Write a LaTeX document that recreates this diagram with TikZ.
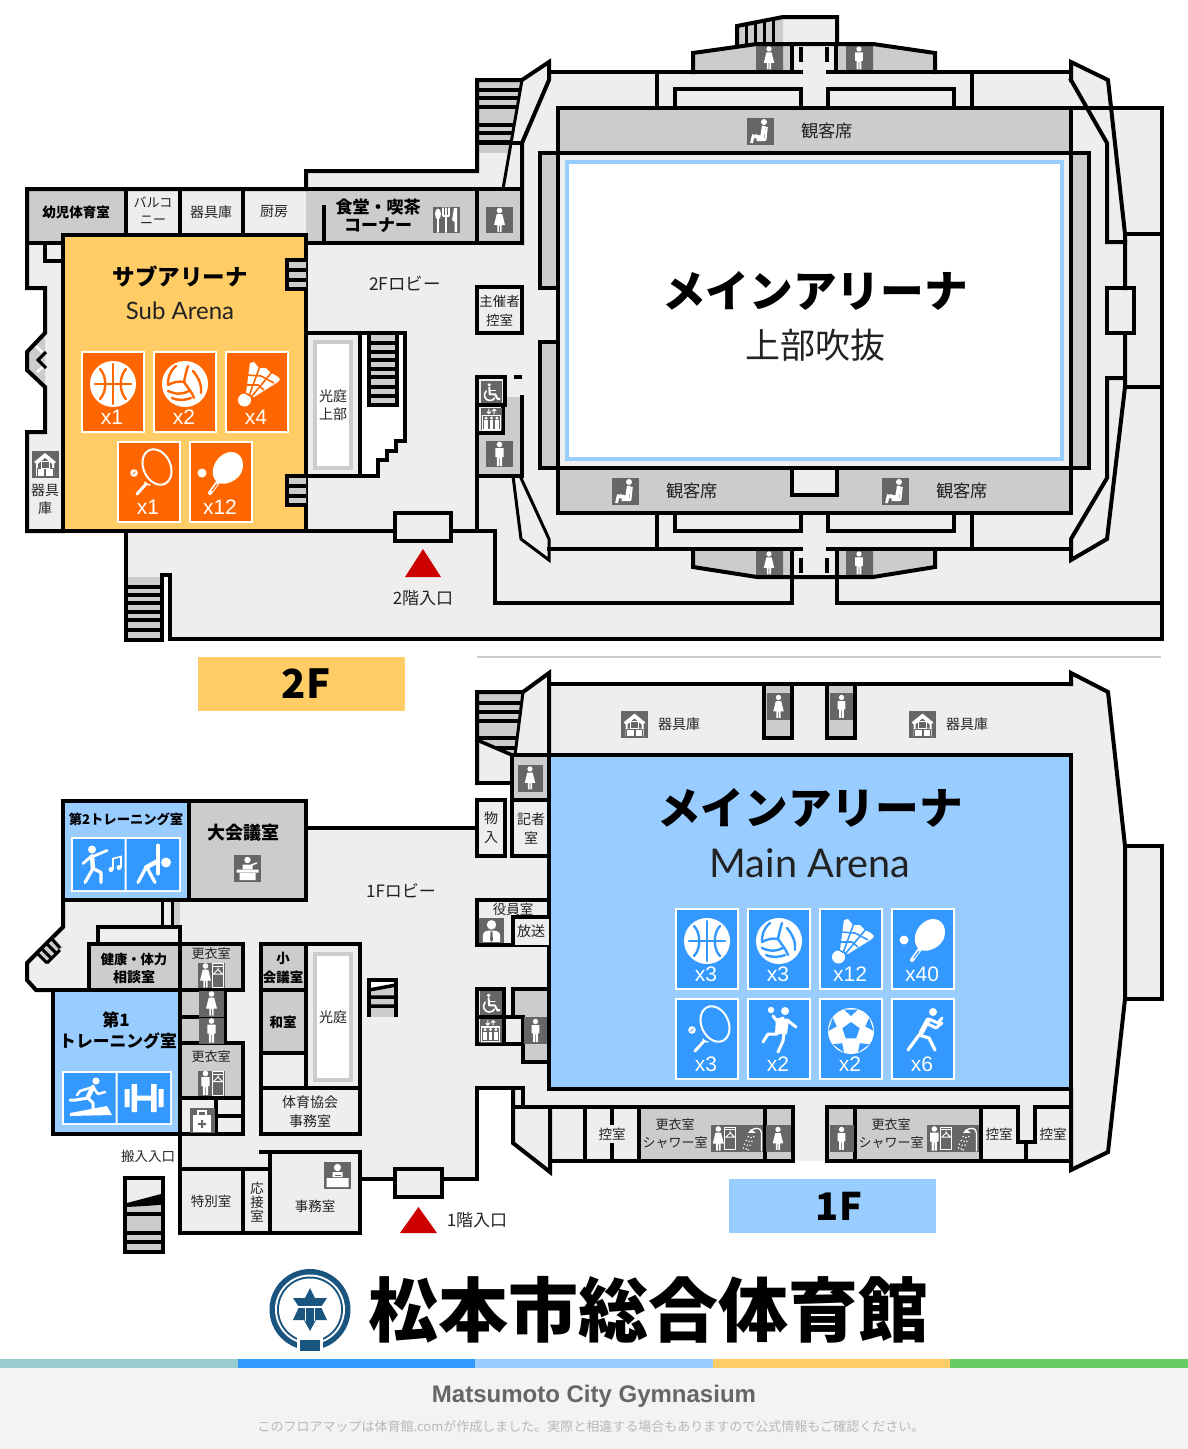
\documentclass[tikz,border=0pt]{standalone}
\usepackage{fontspec}
\setmainfont{Noto Sans CJK JP}
\newfontfamily\latf{Lato}
\newfontfamily\arf{Liberation Sans}
\definecolor{fl}{HTML}{EEEEEE}
\definecolor{gy}{HTML}{CCCCCC}
\definecolor{dk}{HTML}{666666}
\definecolor{bL}{HTML}{99CCFF}
\definecolor{bD}{HTML}{3399FF}
\definecolor{oL}{HTML}{FFCC66}
\definecolor{oD}{HTML}{FF6600}
\definecolor{rd}{HTML}{CC0000}
\definecolor{lg}{HTML}{1A5580}
\definecolor{txt}{HTML}{222222}
\definecolor{b1}{HTML}{99CCCC}
\definecolor{b5}{HTML}{66CC66}
\definecolor{ff}{HTML}{F3F3F3}
\colorlet{tc}{oD}
\tikzset{
 W/.style={draw=black,line width=4pt,line cap=rect,line join=miter,miter limit=20},
 ws/.style={draw=white,line cap=round,line join=round},
 ts/.style={draw=tc,line cap=round,line join=round,line width=2.4pt},
 picF/.pic={\fill[white] (0,-9.5) circle (2.8);
  \fill[white] (-2.8,-5.8)--(2.8,-5.8)--(5.5,5)--(2.2,5)--(2.2,12)--(0.5,12)--(0.5,5.5)--(-0.5,5.5)--(-0.5,12)--(-2.2,12)--(-2.2,5)--(-5.5,5)--cycle;},
 picM/.pic={\fill[white] (0,-9.5) circle (2.8);
  \fill[white] (-4.2,-5.8)--(4.2,-5.8)--(4.2,3)--(2.6,3)--(2.6,12)--(0.4,12)--(0.4,4)--(-0.4,4)--(-0.4,12)--(-2.6,12)--(-2.6,3)--(-4.2,3)--cycle;},
 picSeat/.pic={\fill[white] (3.5,-9) circle (3);
  \draw[ws,line width=4pt,line cap=butt,line join=miter] (3.5,-5)--(1.5,7)--(-6,5);
  \draw[ws,line width=2.8pt,line cap=butt] (-7,3.5)--(-9,12);
  \draw[dk,line width=.8pt] (6,-5)--(4.5,6);
  \draw[ws,line width=2.2pt,line cap=butt] (6.2,-4)--(4.8,9)--(-4,9);},
 picStore/.pic={\fill[white] (-11,-2)--(0,-11)--(11,-2)--(9,-0.5)--(9,12)--(-9,12)--(-9,-0.5)--cycle;
  \fill[dk] (-7,0)--(0,-6)--(7,0)--(7,4)--(-7,4)--cycle;
  \draw[dk,line width=1pt] (-8,4.5) rectangle (-0.5,12) (0.5,4.5) rectangle (8,12) (-4,-3) rectangle (4,4.5);
  \draw[white,line width=1pt] (-4,-3) rectangle (4,4);},
 picCut/.pic={\fill[white] (-8,-6) ellipse (3 and 5.5); \draw[ws,line width=2pt] (-8,-4)--(-8,12);
  \draw[ws,line width=1.2pt] (-3,-12)--(-3,-4) (0,-12)--(0,-4) (3,-12)--(3,-4) (-3,-4)--(3,-4);
  \draw[ws,line width=2pt] (0,-4)--(0,12);
  \fill[white] (8,-12)--(11,-12)--(11,12)--(8.5,12)--(8.5,2)--(6,0)--cycle;},
 picWc/.pic={\fill[white] (-2.5,-8) circle (2);
  \draw[ws,line width=2pt] (-2.5,-5)--(-2,2.5)--(4,2.5)--(7,8)--(9,7.5);
  \draw[ws,line width=1.6pt] (-2,-1.5)--(4,-1.5);
  \draw[ws,line width=1.6pt] (-6,-1) .. controls (-10,3) and (-7,9.5) .. (-2,9.5) .. controls (1,9.5) and (3,8) .. (3.5,6.5);},
 picEv/.pic={\draw[white,line width=1.3pt] (-10,-4) rectangle (10,12);
  \foreach \xx in {-6,0,6}{\fill[white] (\xx,-1) circle (1.8); \fill[white] (\xx-2.2,1.2) rectangle (\xx+2.2,11);}
  \draw[ws,line width=1pt] (-3,-11)--(-3,-6) (3,-6)--(3,-11) (-5,-8)--(-3,-6)--(-1,-8) (1,-9)--(3,-11)--(5,-9);},
 picLock/.pic={\begin{scope}[shift={(-6,0)},scale=.95]\path (0,0) pic {picF};\end{scope}
  \draw[white,line width=1pt] (1,-12) rectangle (12,12) (1,-9)--(12,-9);
  \draw[white,line width=1pt] (6.5,-8)--(6.5,-6)--(11,-1.5)--(2,-1.5)--(6.5,-6);},
 picLockM/.pic={\begin{scope}[shift={(-6,0)},scale=.95]\path (0,0) pic {picM};\end{scope}
  \draw[white,line width=1pt] (1,-12) rectangle (12,12) (1,-9)--(12,-9);
  \draw[white,line width=1pt] (6.5,-8)--(6.5,-6)--(11,-1.5)--(2,-1.5)--(6.5,-6);},
 picShow/.pic={\draw[ws,line width=1.3pt] (11,13)--(11,-6) .. controls (11,-12) and (3,-12) .. (0,-8);
  \fill[white] (-3,-6)--(0,-10)--(5,-6)--cycle;
  \foreach \a/\b in {-3/-2,0/-1,3/-2,-5/2,-2/3,1/3,-7/6,-4/7,-1/7,-8/10,-5/11,-3/12}{\fill[white] (\a,\b) circle (.9);}},
 picPod/.pic={\fill[white] (0,-8) circle (3.2);
  \fill[white] (-5,-3.5) rectangle (5,1) (-11,1.5) rectangle (11,4.5) (-8,5) rectangle (8,12);
  \draw[ws,line width=1.5pt] (4,-3)--(9,-5);},
 picDesk/.pic={\fill[white] (0,-7.5) circle (3.6);
  \fill[white] (-5,-3) rectangle (5,2) (-11,3) rectangle (11,12);
  \fill[dk] (-3,-.5) rectangle (3,1);},
 picAid/.pic={\fill[white] (-9,-5) rectangle (9,12);
  \draw[white,line width=1.4pt] (-4,-5)--(-4,-9)--(4,-9)--(4,-5);
  \fill[dk] (-1,0) rectangle (1,8) (-4,3) rectangle (4,5);},
 picStaff/.pic={\fill[white] (0,-6) circle (5);
  \fill[white] (-9,12)--(-9,5)..controls (-9,1) and (-5,0) .. (0,0) .. controls (5,0) and (9,1) .. (9,5)--(9,12)--cycle;
  \fill[dk] (-1,1)--(1,1)--(1.5,10)--(0,12)--(-1.5,10)--cycle;},
 picBask/.pic={\fill[white] (0,0) circle (23);
  \draw[ts] (-18,0)--(18,0) (0,-20)--(0,20);
  \draw[ts] (-13,-15) .. controls (-6,-8) and (-6,8) .. (-13,15);
  \draw[ts] (13,-15) .. controls (6,-8) and (6,8) .. (13,15);},
 picVol/.pic={\fill[white] (0,0) circle (23);
  \draw[ts] (-9,-18) .. controls (-16,-12) and (-17,-6) .. (-17,1);
  \draw[ts] (-17,1) .. controls (-12,-2) and (-6,-3) .. (-1,-2);
  \draw[ts] (3,-18) .. controls (1,-12) and (0,-7) .. (-1,-2);
  \draw[ts] (8,-13) .. controls (14,-6) and (17,2) .. (16,9);
  \draw[ts] (-1,-2) .. controls (3,4) and (7,8) .. (9,14);
  \draw[ts] (-17,7) .. controls (-8,11) and (-2,10) .. (4,7);
  \draw[ts] (-13,14) .. controls (-6,17) and (1,16) .. (6,14);},
 picShut/.pic={\fill[white] (-12.5,16) circle (6.5);
  \fill[white] (-11,9)--(-7,-21)--(-3,-22)--(2,-16)--(9,-16)--(14,-11)--(20,-8)--(23,-5)--(21,-2)--(-3,13)--cycle;
  \draw[tc,line width=1.6pt,line cap=butt] (-8,12)--(3,-18) (-5,12)--(15,-12);
  \draw[tc,line width=1.6pt,line cap=butt] (-12,1)--(1,1)--(7,6) (-10,-9)--(4,-8)--(17,-1);
  \draw[tc,line width=1.4pt] (-12,9)--(-5,12.5);},
 picPing/.pic={\fill[white] (-19,-1) circle (4.5);
  \draw[ws,line width=4pt] (-3,8)--(-11,19);
  \draw[tc,line width=1.2pt] (-4,10)--(-9,17);
  \fill[white] (-8,1) .. controls (-10,-10) and (0,-22) .. (10,-22) .. controls (20,-22) and (24,-12) .. (21,-3) .. controls (18,6) and (5,12) .. (-2,9) .. controls (-5,8) and (-7,5) .. (-8,1) -- cycle;},
 picTen/.pic={\begin{scope}[shift={(8,-7)},rotate=25]\draw[white,line width=2pt] (0,0) ellipse (13.5 and 18.5);\end{scope}
  \draw[ws,line width=3pt] (-3,10)--(-12,20);
  \draw[ws,line width=1.5pt] (-4,8)--(-3,10)--(1,11);
  \fill[white] (-15,-1) circle (3.8); \draw[tc,line width=.7pt] (-16.5,0.5)--(-13.5,-2.5);},
 picHand/.pic={\fill[white] (-8,-21) circle (3.2) (6,-20) circle (4);
  \fill[white] (-3,-13)--(10,-12)--(8,3)--(-4,3)--cycle;
  \draw[ws,line width=3pt] (-6,-15)--(-2,-10)--(4,-13) (8,-11)--(17,-4);
  \draw[ws,line width=3pt] (-2,3)--(-11,3)--(-16,11) (5,3)--(4,10)--(-1,21);},
 picFoot/.pic={\fill[white] (0,0) circle (23);
  \fill[tc] (0,-9)--(8.6,-2.8)--(5.3,7.3)--(-5.3,7.3)--(-8.6,-2.8)--cycle;
  \foreach \r in {0,72,144,216,288}{\begin{scope}[rotate=\r]
   \fill[tc] (-7,-21.5)--(7,-21.5)--(0,-15)--cycle;\end{scope}}},
 picRun/.pic={\fill[white] (10,-19) circle (4);
  \draw[ws,line width=5pt] (5,-11)--(-2,2);
  \draw[ws,line width=3pt] (6,-12)--(15,-8)--(19,-13) (3,-8)--(13,-3)--(19,-8);
  \draw[ws,line width=3.2pt] (-4,4)--(-15,19) (-4,4)--(6,7)--(12,19);},
 picDance/.pic={\fill[white] (-7,-15) circle (4);
  \draw[ws,line width=4.5pt] (-7,-8)--(-6,4);
  \draw[ws,line width=2.8pt] (-6,-8)--(8,-14) (-8,-8)--(-16,-1);
  \draw[ws,line width=3.2pt] (-6,4)--(-14,18) (-6,4)--(2,8)--(2,18);
  \fill[white] (12,5) circle (2.5) (20,3) circle (2.5);
  \draw[white,line width=1.6pt] (14,5)--(14,-6)--(22,-8)--(22,3);},
 picStr/.pic={\fill[white] (13,-2) circle (5);
  \draw[ws,line width=4pt] (5,-19)--(5,9);
  \draw[ws,line width=4.5pt] (4,-3)--(-7,3);
  \draw[ws,line width=3.2pt] (-7,3)--(-15,18) (-6,3)--(2,18);},
 picTread/.pic={\fill[white] (6,-17) circle (3.6);
  \draw[ws,line width=4.5pt] (3,-11)--(-2,-1);
  \draw[ws,line width=2.5pt] (3,-11)--(-10,-7)--(-13,-3) (3,-11)--(8,-4)--(15,-6);
  \draw[ws,line width=3pt] (-2,0)--(-14,2)--(-20,2) (-2,0)--(3,5)--(3,12);
  \fill[white] (-20,15)--(17,8)--(22,17)--(-20,18)--cycle;},
 picBell/.pic={\fill[white] (-19.5,-9) rectangle (-14.5,9) (-12.5,-14) rectangle (-7,14) (7,-14) rectangle (12.5,14) (14.5,-9) rectangle (19.5,9) (-7,-2.5) rectangle (7,2.5);},
}
\newcommand{\T}[4]{\node[inner sep=0pt,text=txt,font=\fontsize{#3}{#3}\selectfont] at (#1,#2) {#4};}
\newcommand{\B}[4]{\node[inner sep=0pt,text=black,font=\fontsize{#3}{#3}\selectfont\bfseries] at (#1,#2) {#4};}
\newcommand{\Ic}[6]{\fill[dk] (#1-#3,#2-#4) rectangle (#1+#3,#2+#4); \path (#1,#2) pic[scale=#6] {#5};}
\newcommand{\Tile}[5]{\fill[white] (#1,#2) rectangle (#1+64,#2+82); \fill[#3] (#1+2,#2+2) rectangle (#1+62,#2+80);
 \path (#1+32,#2+33) pic {#4};
 \node[inner sep=0pt,text=white,font=\arf\fontsize{21}{21}\selectfont] at (#1+31,#2+66) {#5};}
\newcommand{\Rc}[4]{\draw[W] (#1,#2) rectangle (#3,#4);}
\newcommand{\Gy}[4]{\fill[gy] (#1,#2) rectangle (#3,#4);}
\begin{document}
\begin{tikzpicture}[x=1pt,y=-1pt]
\useasboundingbox (0,0) rectangle (1188,1449);
\fill[white] (0,0) rectangle (1188,1449);
%%%%%%%%%%%%% 2F fills
\fill[fl] (27,189)--(306,189)--(306,171)--(477,171)--(477,80)--(522,80)--(549,62)--(549,72)--(1071,72)--(1071,62)--(1108,80)--(1112,108)--(1162,108)--(1162,639)--(170,639)--(170,575)--(162,575)--(162,640)--(126,640)--(126,531)--(27,531)--(27,432)--(45,432)--(45,387)--(27,370)--(27,352)--(45,333)--(45,288)--(27,288)--cycle;
% top annex
\fill[fl] (737,26)--(783,17)--(837,17)--(837,44)--(737,44)--cycle;
\fill[gy] (737,26)--(783,17)--(783,44)--(737,44)--cycle;
\fill[gy] (693,72)--(693,53)--(757,44)--(873,44)--(935,53)--(935,72)--cycle;
\fill[fl] (792,44) rectangle (836,72);
\fill[dk] (756,44) rectangle (783,70) (846,44) rectangle (873,70);
\path (769,58) pic[scale=.95] {picF}; \path (859,58) pic[scale=.95] {picM};
\foreach \xx in {746,755,764,773}{\draw[line width=3pt,line cap=butt] (\xx,44)--(\xx,{26-(\xx-737)*0.2});}
\draw[W] (737,44)--(737,26)--(783,17)--(837,17)--(837,44);
\draw[W] (693,72)--(693,53)--(757,44)--(873,44)--(935,53)--(935,72);
\draw[W,line cap=butt] (792,44)--(792,72) (836,44)--(836,72);
\draw[W,line cap=butt] (801,47)--(801,62) (827,47)--(827,62);
% bottom annex
\fill[gy] (693,549)--(693,567)--(757,577)--(873,577)--(935,567)--(935,549)--cycle;
\fill[fl] (792,549) rectangle (836,577);
\fill[dk] (756,551) rectangle (783,575) (846,551) rectangle (873,575);
\path (769,563) pic[scale=.95] {picF}; \path (859,563) pic[scale=.95] {picM};
\draw[W] (693,549)--(693,567)--(757,577)--(873,577)--(935,567)--(935,549);
\draw[W,line cap=butt] (801,558)--(801,573) (827,558)--(827,573);
% gray rooms row
\Gy{27}{189}{126}{243}
\Gy{306}{189}{522}{243}
% left zigzag
\fill[gy] (45,333)--(27,352)--(27,370)--(45,387)--cycle;
\draw[white,line width=2.5pt] (36,346)--(42,352) (37,372)--(43,367);
\draw[black,line width=3pt,line join=miter] (46,352)--(38,360)--(46,368);
% stair top-left
\begin{scope}
\clip (477,80)--(522,80)--(510,153)--(477,153)--cycle;
\fill[gy] (477,80) rectangle (525,153);
\foreach \yy in {90,98,107,125,133,142}{\draw[line width=3.5pt,line cap=butt] (477,\yy)--(525,\yy);}
\end{scope}
\draw[W,line cap=butt] (477,143)--(522,143);
% seats etc
\Gy{558}{108}{1071}{153}
\Gy{558}{469}{1071}{513}
\Gy{540}{153}{558}{288}
\Gy{540}{342}{558}{468}
\Gy{1071}{153}{1089}{468}
% arena
\fill[white] (567,162) rectangle (1062,459);
\draw[bL,line width=4pt] (567,162) rectangle (1062,459);
% walls 2F
\draw[W] (63,531)--(27,531)--(27,432)--(45,432)--(45,387)--(27,370)--(27,352)--(45,333)--(45,288)--(27,288)--(27,189)--(306,189)--(306,171)--(477,171)--(477,80)--(522,80)--(549,62)--(549,80)--(522,143)--(522,243);
\draw[W] (306,189)--(522,189);
\draw[W] (27,243)--(63,243);
\draw[W] (126,189)--(126,235) (180,189)--(180,235) (243,189)--(243,235);
\draw[W] (306,243)--(522,243) (324,207)--(324,243) (477,189)--(477,243);
\draw[W] (45,243)--(45,261)--(63,261);
\draw[W,line width=3pt] (503,189)--(522,80);
\Rc{477}{287}{522}{333}
% orange arena
\fill[oL] (63,235) rectangle (306,531);
\draw[W] (63,235) rectangle (306,531);
% orange stairs
\fill[gy] (287,260) rectangle (306,289) (287,476) rectangle (306,505);
\draw[W,line width=3.5pt,line cap=butt] (306,260)--(287,260)--(287,289)--(306,289) (287,270)--(306,270) (287,280)--(306,280);
\draw[W,line width=3.5pt,line cap=butt] (306,476)--(287,476)--(287,505)--(306,505) (287,486)--(306,486) (287,496)--(306,496);
% lobby rooms: lightwell + stairs
\fill[white] (360,333)--(405,333)--(405,441)--(396,441)--(396,451)--(387,451)--(387,460)--(378,460)--(378,476)--(360,476)--cycle;
\fill[gy] (369,333) rectangle (397,405);
\foreach \yy in {343,352,360,369,377,387,396}{\draw[line width=3.5pt,line cap=butt] (369,\yy)--(397,\yy);}
\draw[W] (306,333)--(405,333)--(405,441)--(396,441)--(396,451)--(387,451)--(387,460)--(378,460)--(378,476)--(306,476);
\draw[W] (360,333)--(360,476);
\draw[W] (369,333)--(369,405)--(397,405)--(397,333);
\fill[white] (313,340) rectangle (353,470);
\draw[gy,line width=4pt] (315,342) rectangle (351,468);
% WC 2F
\fill[gy] (505,397) rectangle (522,433) (477,433) rectangle (522,476);
\Rc{477}{377}{505}{405}
\draw[W] (477,405)--(477,476)--(522,476)--(522,397);
\draw[W] (477,433)--(503,433)--(503,405);
\draw[W,line cap=butt] (514,377)--(522,377);
\Ic{491.5}{392}{10.5}{11}{picWc}{.9}
\Ic{491.5}{419}{10.5}{11}{picEv}{.9}
\Ic{499.5}{454}{13.5}{13}{picM}{1}
\Ic{499.5}{220}{13.5}{13}{picF}{1}
\Ic{446}{220}{13.5}{13}{picCut}{1}
\Ic{45}{464}{13.5}{13.5}{picStore}{1}
% ring and arena walls
\draw[W] (549,72)--(801,72) (828,72)--(1071,72);
\draw[W] (657,72)--(657,108) (972,72)--(972,108);
\draw[W] (675,108)--(675,89)--(801,89)--(801,108);
\draw[W] (828,108)--(828,89)--(954,89)--(954,108);
\Rc{558}{108}{1071}{153}
\Rc{558}{153}{1071}{468}
\draw[W] (558,153)--(540,153)--(540,288)--(558,288);
\draw[W] (558,342)--(540,342)--(540,468)--(558,468);
\draw[W] (1071,153)--(1089,153)--(1089,468)--(1071,468);
\Rc{558}{468}{1071}{513}
\fill[fl] (792,470) rectangle (837,495);
\draw[W] (792,470)--(792,495)--(837,495)--(837,470);
\draw[W] (549,549)--(801,549) (828,549)--(1071,549);
\draw[W] (657,513)--(657,549) (972,513)--(972,549);
\draw[W] (675,513)--(675,531)--(801,531)--(801,513);
\draw[W] (828,513)--(828,531)--(954,531)--(954,513);
% right corners
\draw[W] (1071,80)--(1071,62)--(1108,80)--(1125,234)--(1125,288);
\draw[W] (1071,80)--(1107,143)--(1107,242)--(1125,242);
\Rc{1107}{288}{1134}{333}
\draw[W] (1125,333)--(1125,387)--(1107,539)--(1071,560)--(1071,539)--(1107,478)--(1107,378)--(1125,378);
\draw[W] (1071,108)--(1162,108)--(1162,639)--(170,639)--(170,575)--(162,575)--(162,640)--(126,640)--(126,531);
\draw[W] (1125,234)--(1162,234) (1125,387)--(1162,387);
\draw[W] (792,549)--(792,603)--(495,603)--(495,531)--(63,531);
\draw[W] (837,549)--(837,603)--(1162,603);
\draw[W] (477,476)--(477,531);
\draw[W,line width=3pt] (513,476)--(521,539)--(549,560)--(549,539)--(521,478);
% bottom stair 2F
\fill[gy] (128,577) rectangle (160,640);
\foreach \yy in {587,595,603,612,620,630}{\draw[line width=3.5pt,line cap=butt] (126,\yy)--(162,\yy);}
\draw[W] (162,575)--(162,640)--(126,640)--(126,531);
% entrance
\fill[fl] (395,513) rectangle (451,541);
\Rc{395}{513}{451}{541}
\fill[rd] (423,549)--(441,577)--(405,577)--cycle;
% seats icons
\Ic{760.5}{131}{13.5}{13.5}{picSeat}{1}
\Ic{625.5}{491}{13.5}{13.5}{picSeat}{1}
\Ic{895.5}{491}{13.5}{13.5}{picSeat}{1}
% tiles 2F
\colorlet{tc}{oD}
\Tile{81}{351}{oD}{picBask}{x1}
\Tile{153}{351}{oD}{picVol}{x2}
\Tile{225}{351}{oD}{picShut}{x4}
\Tile{117}{441}{oD}{picTen}{x1}
\Tile{189}{441}{oD}{picPing}{x12}
% text 2F
\T{827}{131}{17.3}{観客席}
\T{692}{491}{17.3}{観客席}
\T{962}{491}{17.3}{観客席}
\B{815}{291}{43.7}{メインアリーナ}
\T{815}{345}{35}{上部吹抜}
\B{76}{212}{13.5}{幼児体育室}
\T{153}{202}{13}{バルコ}
\T{153}{220}{13}{ニー}
\T{211}{212}{14}{器具庫}
\T{274}{212}{14}{厨房}
\B{378}{207}{17}{食堂・喫茶}
\B{378}{225}{17}{コーナー}
\B{180}{276}{22.5}{サブアリーナ}
\node[inner sep=0pt,text=txt,font=\latf\fontsize{24}{24}\selectfont] at (180,311) {Sub Arena};
\T{405}{283}{17.5}{2Fロビー}
\T{499.5}{301}{13.5}{主催者}
\T{499.5}{320}{13.5}{控室}
\T{333}{396}{14}{光庭}
\T{333}{414}{14}{上部}
\T{45}{490}{14}{器具}
\T{45}{508}{14}{庫}
\T{423}{598}{17}{2階入口}
% separator + floor badges
\draw[gy,line width=2pt] (477,657)--(1161,657);
\fill[oL] (198,657) rectangle (405,711);
\B{306}{684}{40}{2F}
\fill[bL] (729,1179) rectangle (936,1233);
\B{839}{1206}{38}{1F}
%%%%%%%%%%%%% 1F fills
\fill[fl] (63,801)--(306,801)--(306,828)--(477,828)--(477,800)--(512,800)--(512,783)--(477,783)--(477,692)--(523,692)--(549,673)--(549,684)--(1071,684)--(1071,673)--(1108,692)--(1125,846)--(1162,846)--(1162,999)--(1125,999)--(1108,1152)--(1071,1170)--(1071,1161)--(550,1161)--(550,1172)--(513,1143)--(513,1088)--(477,1088)--(477,1179)--(360,1179)--(360,1233)--(180,1233)--(180,1134)--(53,1134)--(53,990)--(36,990)--(27,980)--(27,963)--(63,927)--cycle;
\Gy{189}{801}{306}{900}
\fill[bL] (63,801) rectangle (189,900);
\Gy{89}{944}{180}{990}
\Gy{180}{944}{243}{990}
\Gy{180}{990}{225}{1043}
\Gy{180}{1043}{243}{1098}
\Gy{261}{944}{306}{1053}
\Gy{173}{900}{180}{927}
\fill[bL] (53,990) rectangle (180,1134);
\fill[white] (313,952) rectangle (353,1082);
\draw[gy,line width=4pt] (315,954) rectangle (351,1080);
\Gy{764}{684}{792}{738}
\Gy{827}{684}{855}{738}
\Gy{512}{755}{549}{800}
\Gy{513}{989}{549}{1017}
\Gy{523}{1017}{549}{1062}
\Gy{639}{1107}{793}{1161}
\Gy{827}{1107}{981}{1161}
% 1F stairs upper-left
\begin{scope}
\clip (477,692)--(523,692)--(515,755)--(512,755)--(477,740)--cycle;
\fill[gy] (477,692) rectangle (525,756);
\foreach \yy in {703,712,721,738,748}{\draw[line width=3.5pt,line cap=butt] (477,\yy)--(525,\yy);}
\end{scope}
\fill[fl] (477,740)--(512,755)--(512,783)--(477,783)--cycle;
\draw[W] (477,783)--(477,692)--(523,692)--(549,673)--(549,755);
\draw[W,line width=3pt] (523,692)--(515,755);
\draw[W,line width=3.5pt] (477,740)--(512,755);
\draw[W] (477,783)--(512,783);
\draw[W] (549,684)--(1071,684);
\draw[W] (512,755)--(1071,755);
\draw[W] (512,755)--(512,856)--(549,856);
\draw[W] (512,800)--(549,800);
\Rc{477}{800}{505}{856}
\draw[W] (306,828)--(477,828);
% blue arena
\fill[bL] (549,755) rectangle (1071,1089);
\draw[W] (549,755) rectangle (1071,1089);
% right
\draw[W] (1071,684)--(1071,673)--(1108,692)--(1125,846)--(1125,999)--(1108,1152)--(1071,1170)--(1071,1089);
\draw[W] (1125,846)--(1162,846)--(1162,999)--(1125,999);
\draw[W] (764,684)--(764,738)--(792,738)--(792,684);
\draw[W] (827,684)--(827,738)--(855,738)--(855,684);
\Ic{778.5}{706.5}{11.5}{13.5}{picF}{.95}
\Ic{841.5}{706.5}{11.5}{13.5}{picM}{.95}
\Ic{530}{778}{12.5}{13.5}{picF}{.95}
\Ic{634.5}{724.5}{13.5}{13.5}{picStore}{1}
\Ic{922.5}{724.5}{13.5}{13.5}{picStore}{1}
% left blocks
\Rc{63}{801}{306}{900}
\draw[W] (189,801)--(189,900);
\draw[W] (63,900)--(63,927)--(27,963)--(27,980)--(36,990)--(53,990);
\draw[W,line width=3pt,line cap=butt] (162,900)--(162,927) (172,900)--(172,927);
\Rc{98}{927}{180}{944}
\Rc{89}{944}{180}{990}
\Rc{180}{944}{243}{990}
\Rc{180}{990}{225}{1017}
\Rc{180}{1017}{225}{1043}
\Rc{180}{1043}{243}{1098}
\Rc{180}{1098}{216}{1134}
\Rc{216}{1098}{243}{1116}
\Rc{216}{1116}{243}{1134}
\Rc{53}{990}{180}{1134}
\Rc{261}{944}{360}{1088}
\draw[W] (306,944)--(306,1088) (261,990)--(306,990) (261,1053)--(306,1053);
\Rc{261}{1088}{360}{1134}
\draw[W] (180,1134)--(180,1233)--(360,1233)--(360,1152)--(261,1152);
\draw[W] (180,1169)--(270,1169) (243,1169)--(243,1233) (270,1152)--(270,1233);
\draw[W] (360,1179)--(477,1179)--(477,1088)--(523,1088)--(523,1107);
\fill[fl] (395,1169) rectangle (442,1197);
\Rc{395}{1169}{442}{1197}
\fill[rd] (418.5,1207)--(437,1233)--(400,1233)--cycle;
% diag stair left
\fill[gy] (37,953)--(53,937)--(63,947)--(47,963)--cycle;
\draw[black,line width=3pt,line join=miter] (37,953)--(53,937) (47,963)--(60,950) (37,953)--(47,963) (41,948)--(51,958) (46,943)--(56,953) (51,938)--(60,948);
% lobby stair small
\fill[gy] (369,980) rectangle (396,1017);
\fill[white] (369,981)--(396,981)--(396,985)--(369,992)--cycle;
\draw[W,line width=3.5pt,line cap=butt] (369,1017)--(369,980)--(396,980)--(396,1017);
\draw[line width=3.5pt] (369,997)--(396,997) (369,1006)--(396,1006) (369,990)--(396,985);
% offices near
\Rc{477}{900}{549}{945}
\fill[fl] (513,917) rectangle (549,945);
\draw[W] (513,945)--(513,917)--(549,917);
\Ic{491.5}{930.5}{12.5}{12.5}{picStaff}{.95}
% wc 1F center
\Rc{477}{989}{504}{1044}
\draw[W] (477,1017)--(504,1017);
\draw[W] (504,1017)--(523,1017)--(523,1062)--(549,1062);
\draw[W] (504,1044)--(523,1044);
\draw[W] (513,1017)--(513,989)--(549,989);
\Ic{491}{1003}{11}{12}{picWc}{.95}
\Ic{490.5}{1030.5}{11}{12}{picEv}{.9}
\Ic{535.5}{1030.5}{11.5}{13.5}{picM}{.95}
% bottom row
\draw[W] (513,1088)--(513,1143)--(550,1172)--(550,1107);
\draw[W] (513,1107)--(793,1107)--(793,1161)--(550,1161);
\draw[W] (827,1161)--(827,1107)--(1018,1107)--(1018,1142)--(1035,1142)--(1035,1107)--(1071,1107);
\draw[W] (827,1161)--(1071,1161);
\draw[W] (585,1107)--(585,1161) (639,1107)--(639,1161) (765,1107)--(765,1161) (855,1107)--(855,1161) (981,1107)--(981,1161) (1026,1142)--(1026,1161);
\draw[W,line cap=butt] (612,1107)--(612,1125) (612,1143)--(612,1161);
\Ic{778}{1138.5}{12.5}{13.5}{picF}{.95}
\Ic{841.5}{1138.5}{12}{13.5}{picM}{.95}
\fill[dk] (711,1125) rectangle (763,1152);
\path (724,1138.5) pic[scale=.95] {picLock}; \path (751,1138.5) pic[scale=.95] {picShow};
\fill[dk] (927,1125) rectangle (979,1152);
\path (940,1138.5) pic[scale=.95] {picLockM}; \path (966,1138.5) pic[scale=.95] {picShow};
% stairs bottom left
\fill[fl] (125,1178) rectangle (163,1252);
\Gy{127}{1206}{161}{1252}
\fill[black] (127,1203)--(161,1194)--(161,1205)--(127,1207)--cycle;
\draw[line width=3.5pt,line cap=butt] (125,1214)--(163,1214) (125,1233)--(163,1233) (125,1242)--(163,1242);
\Rc{125}{1178}{163}{1252}
% icons left
\Ic{247.5}{868}{13.5}{13.5}{picPod}{1}
\Ic{211.5}{975.5}{13.5}{12.5}{picLock}{1}
\Ic{211.5}{1003.5}{12.5}{13}{picF}{1}
\Ic{211.5}{1030.5}{12.5}{13}{picM}{1}
\Ic{211.5}{1083}{13.5}{12.5}{picLockM}{1}
\Ic{202}{1120}{12.5}{12.5}{picAid}{1}
\Ic{337.5}{1175}{13.5}{13.5}{picDesk}{1}
% training tiles
\colorlet{tc}{bD}
\fill[white] (71,837) rectangle (181,892);
\fill[bD] (73,839) rectangle (124.7,890) (126.7,839) rectangle (179,890);
\path (99,864.5) pic {picDance}; \path (153,864.5) pic {picStr};
\fill[white] (62,1071) rectangle (172,1125);
\fill[bD] (64,1073) rectangle (115.7,1123) (117.7,1073) rectangle (170,1123);
\path (90,1098) pic {picTread}; \path (144,1098) pic {picBell};
% tiles 1F
\Tile{675}{908}{bD}{picBask}{x3}
\Tile{747}{908}{bD}{picVol}{x3}
\Tile{819}{908}{bD}{picShut}{x12}
\Tile{891}{908}{bD}{picPing}{x40}
\Tile{675}{998}{bD}{picTen}{x3}
\Tile{747}{998}{bD}{picHand}{x2}
\Tile{819}{998}{bD}{picFoot}{x2}
\Tile{891}{998}{bD}{picRun}{x6}
% text 1F
\B{810}{808}{43.7}{メインアリーナ}
\node[inner sep=0pt,text=txt,font=\latf\fontsize{39.6}{39.6}\selectfont] at (810,863) {Main Arena};
\T{679}{724}{14}{器具庫}
\T{967}{724}{14}{器具庫}
\T{401}{891}{17}{1Fロビー}
\B{126}{819}{13.3}{第2トレーニング室}
\B{243}{833}{18}{大会議室}
\B{134}{959}{13.3}{健康・体力}
\B{134}{977}{14}{相談室}
\T{211}{954}{13}{更衣室}
\T{211}{1057}{13}{更衣室}
\B{116}{1020}{17}{第1}
\B{118}{1041}{16.8}{トレーニング室}
\B{283}{958}{13.5}{小}
\B{283}{977}{13.5}{会議室}
\B{283}{1022}{13.5}{和室}
\T{333}{1017}{14}{光庭}
\T{310}{1102}{14}{体育協会}
\T{310}{1121}{14}{事務室}
\T{211}{1201}{13.5}{特別室}
\T{257}{1188}{13.5}{応}
\T{257}{1202}{13.5}{接}
\T{257}{1216}{13.5}{室}
\T{315}{1206}{13.5}{事務室}
\T{148}{1156}{13.5}{搬入入口}
\T{491}{818}{14}{物}
\T{491}{838}{14}{入}
\T{531}{819}{14}{記者}
\T{531}{838}{14}{室}
\T{513}{909}{13.5}{役員室}
\T{531}{931}{14}{放送}
\T{477}{1220}{17}{1階入口}
\T{612}{1134}{13.5}{控室}
\T{999}{1134}{13.5}{控室}
\T{1053}{1134}{13.5}{控室}
\T{675}{1125}{13}{更衣室}
\T{675}{1143}{13}{シャワー室}
\T{891}{1125}{13}{更衣室}
\T{891}{1143}{13}{シャワー室}
%%%%%%%%%%%%% logo
\fill[lg] (310,1309.5) circle (40.5);
\fill[white] (310,1309.5) circle (35);
\fill[lg] (310,1309.5) circle (33);
\fill[white] (310,1309.5) circle (31);
\fill[white] (297,1337) rectangle (323,1351);
\fill[lg] (300,1340) rectangle (320,1350.5);
\fill[lg] (310,1288)--(315,1298)--(327,1298)--(321,1307)--(327,1320)--(316,1320)--(310,1331)--(304,1320)--(293,1320)--(299,1307)--(293,1298)--(305,1298)--cycle;
\draw[white,line width=2pt] (298,1307)--(322,1307);
\draw[white,line width=1.8pt] (305.5,1307)--(305.5,1321) (314.5,1307)--(314.5,1321);
\node[inner sep=0pt,text=black,font=\fontsize{70}{70}\selectfont\bfseries] at (648,1310) {松本市総合体育館};
%%%%%%%%%%%%% footer
\fill[ff] (0,1368) rectangle (1188,1449);
\fill[b1] (0,1359) rectangle (237.6,1368);
\fill[bD] (237.6,1359) rectangle (475.2,1368);
\fill[bL] (475.2,1359) rectangle (712.8,1368);
\fill[oL] (712.8,1359) rectangle (950.4,1368);
\fill[b5] (950.4,1359) rectangle (1188,1368);
\node[inner sep=0pt,text=dk,font=\arf\bfseries\fontsize{24}{24}\selectfont] at (594,1396) {Matsumoto City Gymnasium};
\node[inner sep=0pt,text=black!28,font=\fontsize{13}{13}\selectfont] at (591,1427) {このフロアマップは体育館.comが作成しました。実際と相違する場合もありますので公式情報もご確認ください。};
\end{tikzpicture}
\end{document}
